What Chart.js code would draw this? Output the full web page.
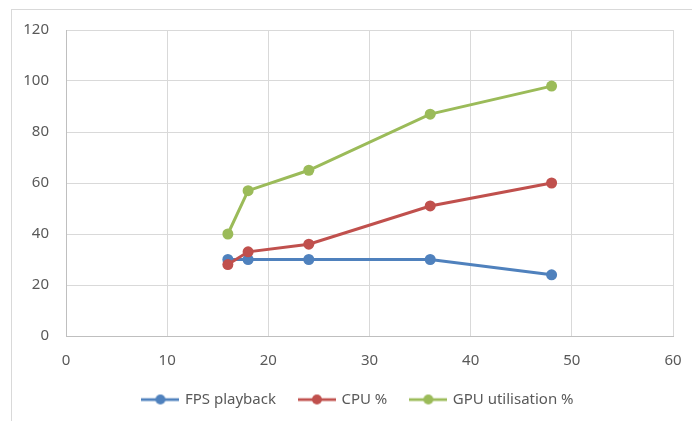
<!DOCTYPE html>
<html>
<head>
<meta charset="utf-8">
<script src="https://cdn.jsdelivr.net/npm/chart.js@4/dist/chart.umd.min.js"></script>
<style>
    html, body { margin: 0; padding: 0; background: #fff; overflow: hidden; }
    #wrap { position: relative; width: 692px; height: 421px; overflow: hidden; }
    #frame { position: absolute; left: 11px; top: 9px; width: 720px; height: 440px; border: 1px solid #d9d9d9; box-sizing: border-box; }
    #chart { position: absolute; left: 0; top: 0; }
</style>
</head>
<body>
<div id="wrap">
    <div id="frame"></div>
    <canvas id="chart" width="692" height="421"></canvas>
</div>
<script>
// 데이터
const xValues = [16, 18, 24, 36, 48];
const fpsValues = [30, 30, 30, 30, 24];
const cpuValues = [28, 33, 36, 51, 60];
const gpuValues = [40, 57, 65, 87, 98];
const seriesNames = ['FPS playback', 'CPU %', 'GPU utilisation %'];
const seriesColors = ['#4f81bd', '#c0504d', '#9bbb59'];

const toPoints = ys => xValues.map((x, i) => ({ x: x, y: ys[i] }));

// 범례 아이콘 (선 + 점)
function legendIcon(color) {
    const c = document.createElement('canvas');
    c.width = 38;
    c.height = 12;
    const g = c.getContext('2d');
    g.strokeStyle = color;
    g.lineWidth = 2.75;
    g.beginPath();
    g.moveTo(0, 6);
    g.lineTo(38, 6);
    g.stroke();
    g.fillStyle = color;
    g.beginPath();
    g.arc(19, 6, 5, 0, Math.PI * 2);
    g.fill();
    return c;
}
const icons = seriesColors.map(legendIcon);

const datasets = [fpsValues, cpuValues, gpuValues].map((vals, i) => ({
    label: seriesNames[i],
    data: toPoints(vals),
    borderColor: seriesColors[i],
    backgroundColor: seriesColors[i],
    borderWidth: 3,
    pointRadius: 5.5,
    pointHoverRadius: 5.5,
    pointBorderWidth: 0,
    showLine: true,
    order: 3 - i
}));

const font = { family: "'Noto Sans', 'Open Sans', sans-serif", size: 15 };

// 범례를 원본처럼 오른쪽으로 약간 이동
const legendShift = {
    id: 'legendShift',
    afterLayout(chart) {
        if (chart.legend) {
            chart.legend.left += 22;
            chart.legend.right += 22;
        }
    }
};

new Chart(document.getElementById('chart'), {
    type: 'scatter',
    data: { datasets: datasets },
    plugins: [legendShift],
    options: {
        responsive: false,
        animation: false,
        layout: { padding: { top: 30, right: 19, left: 0, bottom: 4 } },
        plugins: {
            tooltip: { enabled: false },
            legend: {
                position: 'bottom',
                labels: {
                    font: font,
                    color: '#595959',
                    usePointStyle: true,
                    pointStyleWidth: 34,
                    padding: 24,
                    generateLabels: chart => chart.data.datasets.map((ds, i) => ({
                        text: ds.label,
                        datasetIndex: i,
                        pointStyle: icons[i],
                        fillStyle: ds.borderColor,
                        strokeStyle: ds.borderColor,
                        lineWidth: 0,
                        fontColor: '#595959',
                        hidden: false
                    }))
                }
            }
        },
        scales: {
            x: {
                type: 'linear',
                min: 0,
                max: 60,
                ticks: { stepSize: 10, font: { ...font, lineHeight: 2.2 }, color: '#595959', padding: 8 },
                grid: { color: '#d9d9d9', drawTicks: false },
                border: { color: '#bfbfbf' },
                afterFit: s => { s.height = 32; }
            },
            y: {
                min: 0,
                max: 120,
                ticks: { stepSize: 20, font: font, color: '#595959', padding: 17 },
                grid: { color: '#d9d9d9', drawTicks: false },
                border: { color: '#bfbfbf' },
                afterFit: s => { s.width = 66; }
            }
        }
    }
});
</script>
</body>
</html>
